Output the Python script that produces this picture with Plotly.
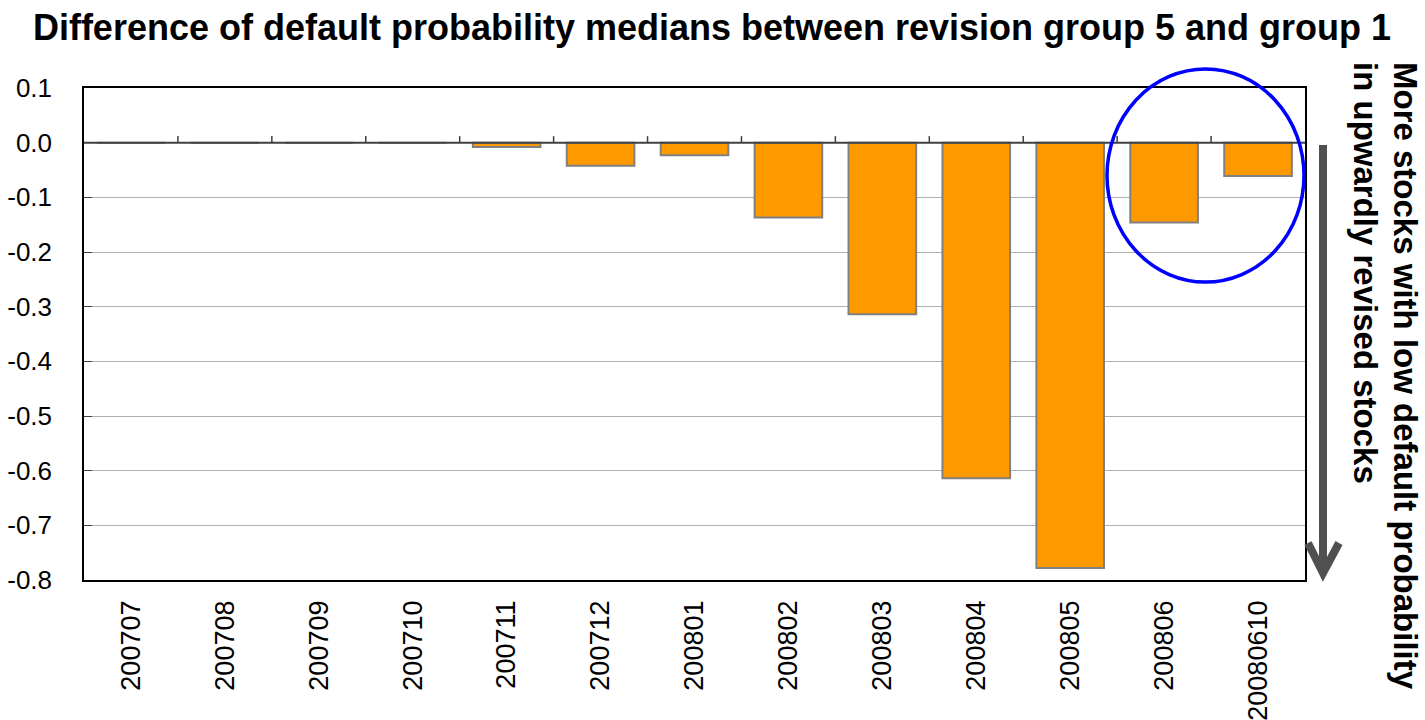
import plotly.graph_objects as go

# Monthly snapshots and the median difference (group 5 minus group 1)
periods = ["200707", "200708", "200709", "200710", "200711", "200712",
           "200801", "200802", "200803", "200804", "200805", "200806", "20080610"]
median_diff = [0.0, 0.0, 0.0, 0.0, -0.008, -0.042,
               -0.023, -0.137, -0.314, -0.614, -0.778, -0.146, -0.061]
y_ticks = [0.1, 0.0, -0.1, -0.2, -0.3, -0.4, -0.5, -0.6, -0.7, -0.8]
side_note = ["More stocks with low default probability", "in upwardly revised stocks"]

W, H = 1425, 720
L, R, T, B = 84, 1305, 88, 580   # plot area in pixels


def px(x):
    return (x - L) / (R - L)


def py(y):
    return (B - y) / (B - T)


fig = go.Figure()
fig.add_trace(go.Bar(
    x=periods, y=median_diff,
    marker=dict(color="#FF9900", line=dict(color="#808080", width=2)),
    width=0.72,
))

shapes = []
# short ticks on the zero line at category boundaries
for i in range(1, len(periods)):
    shapes.append(dict(type="line", xref="x", yref="y",
                       x0=i - 0.5, x1=i - 0.5, y0=0, y1=0.012,
                       line=dict(color="#404040", width=1.5)))
# zero line drawn on top
shapes.append(dict(type="line", xref="paper", yref="y", x0=0, x1=1, y0=0, y1=0,
                   line=dict(color="#404040", width=2)))
# highlight circle around the last two periods
shapes.append(dict(type="circle", xref="paper", yref="paper",
                   x0=px(1107), x1=px(1304), y0=py(282), y1=py(69),
                   line=dict(color="#0000FF", width=3.5)))
# downward arrow: shaft and head
shapes.append(dict(type="line", xref="paper", yref="paper",
                   x0=px(1323), x1=px(1323), y0=py(145), y1=py(572),
                   line=dict(color="#505050", width=8)))
shapes.append(dict(type="path", xref="paper", yref="paper",
                   path=f"M {px(1308)} {py(543)} L {px(1323)} {py(573)} L {px(1339)} {py(543)}",
                   line=dict(color="#505050", width=8)))

# rotated side note, one annotation per line, both starting at the top
annotations = []
for line_text, xc in zip(side_note, [1406, 1366]):
    annotations.append(dict(text=f"<b>{line_text}</b>",
                            xref="paper", yref="paper", x=px(xc), y=py(60),
                            xanchor="center", yanchor="top", textangle=90,
                            showarrow=False, font=dict(size=33, color="black")))

fig.update_layout(
    width=W, height=H,
    margin=dict(l=L, r=W - R, t=T, b=H - B, autoexpand=False),
    paper_bgcolor="white", plot_bgcolor="white",
    font=dict(family="Arial, 'Liberation Sans', sans-serif", color="black"),
    showlegend=False,
    bargap=0.28,
    title=dict(text="<b>Difference of default probability medians between revision group 5 and group 1</b>",
               x=712 / W, xanchor="center", xref="container", y=1 - 27 / H, yanchor="middle",
               font=dict(size=36, color="black")),
    xaxis=dict(type="category", tickangle=-90, tickfont=dict(size=27), automargin=False,
               showline=True, linecolor="black", linewidth=1.5, mirror=True,
               showgrid=False, ticks="", ticklabelstandoff=8),
    yaxis=dict(range=[-0.8, 0.1], tickvals=y_ticks, automargin=False,
               ticktext=[f"{v:.1f}" for v in y_ticks],
               tickfont=dict(size=26), showgrid=True, gridcolor="#B0B0B0", gridwidth=1,
               showline=True, linecolor="black", linewidth=1.5, mirror=True,
               ticks="inside", ticklen=8, tickcolor="#404040",
               zeroline=False, ticklabelstandoff=25),
    shapes=shapes,
    annotations=annotations,
)

fig.write_html("out.html")
